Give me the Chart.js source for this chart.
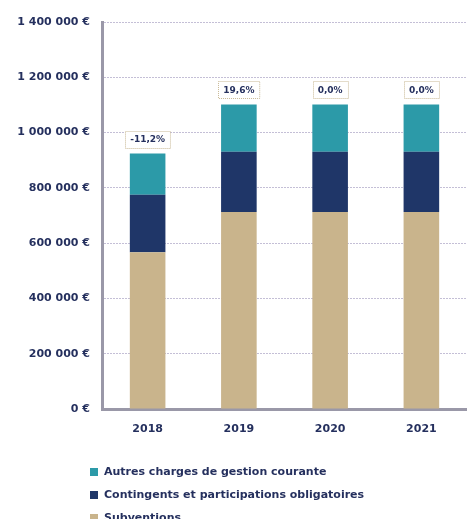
<!DOCTYPE html>
<html>
<head>
<meta charset="utf-8">
<script src="https://cdn.jsdelivr.net/npm/chart.js@4"></script>
<style>
  html, body { margin: 0; padding: 0; background: #fff; }
  #wrap { width: 467px; height: 519px; }
</style>
</head>
<body>
<div id="wrap"><canvas id="myChart" width="467" height="519"></canvas></div>
<script>
var annees = ['2018', '2019', '2020', '2021'];
var subventions = [567000, 713000, 713000, 713000];
var contingents = [208000, 218000, 218000, 218000];
var autresCharges = [149000, 171000, 171000, 171000];
var evolutions = ['-11,2%', '19,6%', '0,0%', '0,0%'];
var yTicks = [0, 200000, 400000, 600000, 800000, 1000000, 1200000, 1400000];

var txt = '#25305e';
var police = '"DejaVu Sans", Verdana, sans-serif';

function euros(v) {
    return String(v).replace(/\B(?=(\d{3})+(?!\d))/g, ' ') + ' €';
}

// etiquettes d'evolution au-dessus des barres
var evoPlugin = {
    id: 'evo',
    afterDatasetsDraw: function (chart) {
        var ctx = chart.ctx;
        var top = chart.getDatasetMeta(chart.data.datasets.length - 1);
        ctx.save();
        ctx.font = 'bold 9px ' + police;
        ctx.textAlign = 'center';
        ctx.textBaseline = 'middle';
        top.data.forEach(function (bar, i) {
            var t = evolutions[i];
            var w = ctx.measureText(t).width + 10;
            var h = 17;
            var y = bar.y - 6 - h / 2;
            ctx.fillStyle = '#fff';
            ctx.fillRect(bar.x - w / 2, y - h / 2, w, h);
            ctx.setLineDash([1, 1]);
            ctx.strokeStyle = '#c8b894';
            ctx.lineWidth = 1;
            ctx.strokeRect(Math.round(bar.x - w / 2) + 0.5, Math.round(y - h / 2) + 0.5, w, h);
            ctx.fillStyle = txt;
            ctx.fillText(t, bar.x, y + 0.5);
        });
        ctx.restore();
    }
};

// legende verticale en bas a gauche
var legendPlugin = {
    id: 'legendeBas',
    afterDraw: function (chart) {
        var ctx = chart.ctx;
        var ds = chart.data.datasets.slice().reverse();
        ctx.save();
        ctx.font = 'bold 11px ' + police;
        ctx.textBaseline = 'middle';
        ds.forEach(function (d, i) {
            var y = 472 + i * 23;
            ctx.fillStyle = d.backgroundColor;
            ctx.fillRect(90, y - 4, 8, 8);
            ctx.fillStyle = txt;
            ctx.fillText(d.label, 104, y);
        });
        ctx.restore();
    }
};

var myChart = new Chart(
    document.getElementById('myChart'), {
    type: 'bar',
    data: {
        labels: annees,
        datasets: [{
            label: 'Subventions',
            backgroundColor: '#c9b48c',
            data: subventions
        }, {
            label: 'Contingents et participations obligatoires',
            backgroundColor: '#1f3668',
            data: contingents
        }, {
            label: 'Autres charges de gestion courante',
            backgroundColor: '#2c9aa8',
            data: autresCharges
        }]
    },
    options: {
        responsive: false,
        animation: false,
        layout: {
            padding: { top: 22, bottom: 82, right: 0, left: 0 }
        },
        datasets: {
            bar: { categoryPercentage: 1, barPercentage: 0.39, borderWidth: 0 }
        },
        plugins: {
            legend: { display: false },
            tooltip: { enabled: false }
        },
        scales: {
            x: {
                stacked: true,
                grid: { display: false },
                border: { color: '#9a98a8', width: 3 },
                ticks: {
                    color: txt,
                    font: { family: police, size: 11, weight: 'bold' },
                    padding: 6
                },
                afterFit: function (s) { s.height = 28; }
            },
            y: {
                stacked: true,
                min: 0,
                max: 1400000,
                afterBuildTicks: function (s) {
                    s.ticks = yTicks.map(function (v) { return { value: v }; });
                },
                grid: {
                    color: '#c4bfd6',
                    lineWidth: 1,
                    drawTicks: false
                },
                border: { color: '#9a98a8', width: 3, dash: [2, 1] },
                ticks: {
                    color: txt,
                    padding: 12,
                    font: { family: police, size: 11, weight: 'bold' },
                    callback: function (v) { return euros(v); }
                },
                afterFit: function (s) { s.width = 102; }
            }
        }
    },
    plugins: [evoPlugin, legendPlugin]
});
</script>
</body>
</html>
